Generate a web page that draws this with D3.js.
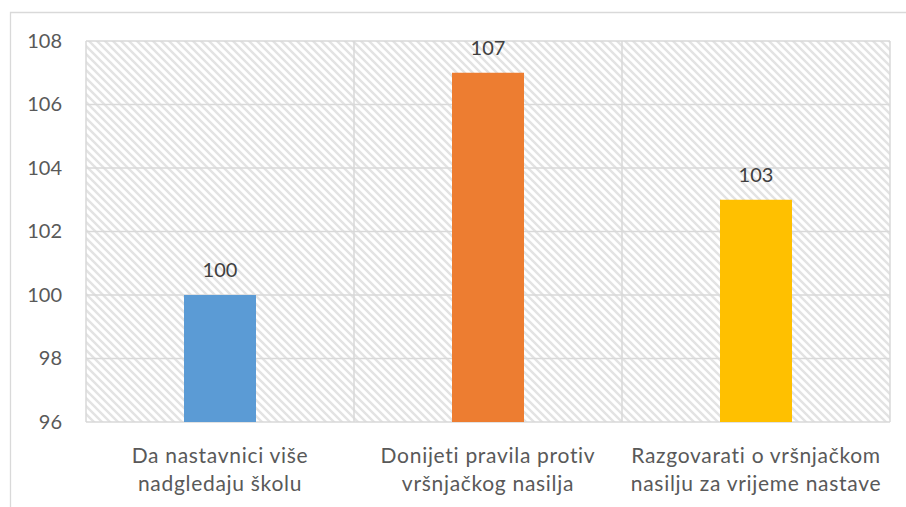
<!DOCTYPE html>
<html><head><meta charset="utf-8">
<script src="https://cdn.jsdelivr.net/npm/d3@7"></script>
<style>body{margin:0;background:#fff}svg{display:block}</style>
</head><body><svg id="c" width="906" height="507"></svg>
<script>
const categories = [["Da nastavnici više","nadgledaju školu"],["Donijeti pravila protiv","vršnjačkog nasilja"],["Razgovarati o vršnjačkom","nasilju za vrijeme nastave"]];
const values = [100, 107, 103];
const colors = ["#5b9bd5", "#ed7d31", "#ffc000"];
const yTicks = [96, 98, 100, 102, 104, 106, 108];

const svg = d3.select("#c");
const m = {l: 86, r: 890, t: 41, b: 422};
const font = "Lato, 'Open Sans', sans-serif";

// outer chart border
svg.append("path").attr("d", "M10.5,507 L10.5,12.5 L906,12.5").attr("fill","none").attr("stroke","#d9d9d9").attr("stroke-width",1.3);

const defs = svg.append("defs");
const pat = defs.append("pattern").attr("id","hatch").attr("patternUnits","userSpaceOnUse").attr("width",8).attr("height",8);
pat.append("rect").attr("width",8).attr("height",8).attr("fill","#fff");
pat.append("path").attr("d","M-2,6 L2,10 M0,0 L8,8 M6,-2 L10,2").attr("stroke","#e3e3e3").attr("stroke-width",2.4);

const x = d3.scaleBand().domain(d3.range(categories.length)).range([m.l, m.r]).paddingInner(0).paddingOuter(0);
const y = d3.scaleLinear().domain([96, 108]).range([m.b, m.t]);

svg.append("rect").attr("x", m.l).attr("y", m.t).attr("width", m.r - m.l).attr("height", m.b - m.t).attr("fill","url(#hatch)");

// horizontal gridlines
svg.append("g").selectAll("line").data(yTicks).join("line")
  .attr("x1", m.l).attr("x2", m.r).attr("y1", d => y(d)).attr("y2", d => y(d))
  .attr("stroke","#d9d9d9").attr("stroke-width",1.5);
// vertical category boundaries
const bounds = d3.range(categories.length + 1).map(i => i < categories.length ? x(i) : m.r);
svg.append("g").selectAll("line").data(bounds).join("line")
  .attr("x1", d => d).attr("x2", d => d).attr("y1", m.t).attr("y2", m.b)
  .attr("stroke","#d9d9d9").attr("stroke-width",1.5);

// y axis labels
const yAxis = d3.axisLeft(y).tickValues(yTicks).tickSize(0).tickPadding(24);
const ya = svg.append("g").attr("transform", `translate(${m.l},0)`).call(yAxis);
ya.select(".domain").remove();
ya.selectAll("text").attr("font-family", font).attr("font-size", 20).attr("fill","#595959");

// bars
const bw = 72;
svg.append("g").selectAll("rect").data(values).join("rect")
  .attr("x", (d,i) => x(i) + x.bandwidth()/2 - bw/2)
  .attr("width", bw)
  .attr("y", d => y(d))
  .attr("height", d => y(96) - y(d))
  .attr("fill", (d,i) => colors[i]);

// value labels
svg.append("g").selectAll("text").data(values).join("text")
  .attr("x", (d,i) => x(i) + x.bandwidth()/2)
  .attr("y", d => y(d) - 18)
  .attr("text-anchor","middle")
  .attr("font-family", font).attr("font-size", 20).attr("fill","#404040")
  .text(d => d);

// category labels
const cg = svg.append("g").selectAll("text").data(categories).join("text")
  .attr("text-anchor","middle")
  .attr("font-family", font).attr("font-size", 21).attr("letter-spacing", 0.7).attr("fill","#595959");
cg.each(function(lines, i) {
  const t = d3.select(this);
  lines.forEach((ln, j) => {
    t.append("tspan").attr("x", x(i) + x.bandwidth()/2).attr("y", 463 + j * 28).text(ln);
  });
});
</script></body></html>
